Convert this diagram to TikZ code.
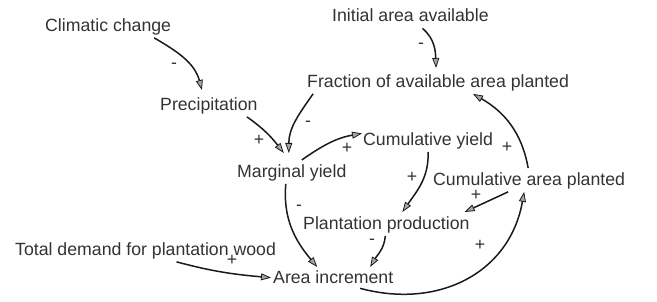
\documentclass[tikz,border=0pt]{standalone}
\usepackage{fontspec}
\setmainfont{Liberation Sans}
\usetikzlibrary{arrows.meta}
\definecolor{inktext}{HTML}{333333}
\definecolor{inkline}{HTML}{1A1A1A}
\definecolor{headfill}{HTML}{A6A6A6}
\tikzset{
  var/.style={anchor=base west,inner sep=2pt,text=inktext},
  sign/.style={inner sep=0pt,text=inktext},
  link/.style={inkline,line width=1.5pt,
    -{Triangle[length=10pt,width=7pt,fill=headfill,line width=.8pt]}},
}
\begin{document}
\begin{tikzpicture}[x=1pt,y=1pt,font=\fontsize{17.7}{21}\selectfont]
  \useasboundingbox (0,0) rectangle (657,302);
  % variables
  \node[var] (clim)   at (43,270)  {Climatic change};
  \node[var] (init)   at (330,280) {Initial area available};
  \node[var] (frac)   at (305,214) {Fraction of available area planted};
  \node[var] (prec)   at (158,191) {Precipitation};
  \node[var] (cumy)   at (361,156) {Cumulative yield};
  \node[var] (marg)   at (235,124) {Marginal yield};
  \node[var] (cuma)   at (431,116) {Cumulative area planted};
  \node[var] (plant)  at (301,72)  {Plantation production};
  \node[var] (demand) at (13,46)   {Total demand for plantation wood};
  \node[var] (area)   at (271,18)  {Area increment};
  % links
  \draw[link] ([xshift=46pt]clim.south) to[out=-30,in=105] ([xshift=-7pt,yshift=6pt]prec.north);
  \draw[link] ([xshift=12pt,yshift=-4pt]init.south) to[out=-40,in=92] ([xshift=-2pt,yshift=5pt]frac.north);
  \draw[link] ([xshift=38pt]prec.south) to[out=-35,in=128] ([xshift=-8pt,yshift=10pt]marg.north);
  \draw[link] ([xshift=-125pt]frac.south) to[out=-125,in=90] ([xshift=-3pt,yshift=10pt]marg.north);
  \draw[link] ([xshift=10pt,yshift=3pt]marg.north) to[out=35,in=190] ([xshift=1pt,yshift=8pt]cumy.west);
  \draw[link] (cumy.south) to[out=-88,in=55] ([xshift=16pt,yshift=3pt]plant.north);
  \draw[link] ([xshift=-21pt]cuma.south) -- ([xshift=-7pt,yshift=3pt]plant.north east);
  \draw[link] ([xshift=-1pt,yshift=3pt]cuma.north) to[out=100,in=-30] ([xshift=35pt]frac.south);
  \draw[link] ([xshift=-6pt]marg.south) to[out=-95,in=130] ([xshift=-16pt,yshift=2pt]area.north);
  \draw[link] ([xshift=-1pt]plant.south) to[out=-95,in=60] ([xshift=37pt,yshift=2pt]area.north);
  \draw[link] ([xshift=31pt]demand.south) to[out=-15,in=175] (area.west);
  \draw[link] ([xshift=27pt,yshift=-2pt]area.south) to[out=-15,in=-100,looseness=1.1] ([xshift=-5pt]cuma.south);
  % polarity signs
  \foreach \x/\y/\s [count=\i] in {174/236/-,421/256/-,259/162/+,308/178/-,347/154/+,412/125/+,
                                   476/107/+,507/155/+,299/94/-,372/60/-,232/42/+,480/57/+}
    \node[sign] (sign\i) at (\x,\y) {\s};
\end{tikzpicture}
\end{document}
